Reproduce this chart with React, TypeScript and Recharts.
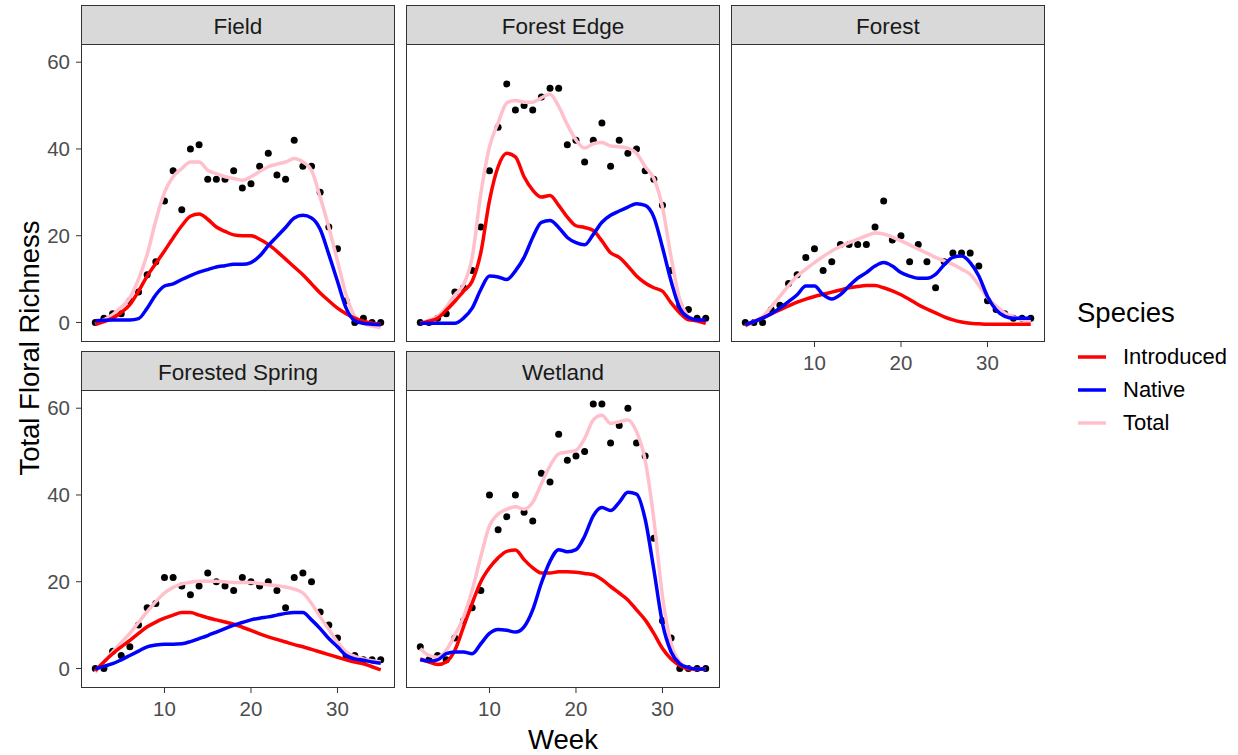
import { ComposedChart, Line, Scatter, XAxis, YAxis } from "recharts"

// sampling weeks shared by every site
const weeks = [2, 3, 4, 5, 6, 7, 8, 9, 10, 11, 12, 13, 14, 15, 16, 17, 18, 19, 20, 21, 22, 23, 24, 25, 26, 27, 28, 29, 30, 31, 32, 33, 34, 35]

// Field
const fieldPoints = [0, 1, 2, 2, 5, 7, 11, 14, 28, 35, 26, 40, 41, 33, 33, 33, 35, 31, 32, 36, 39, 34, 33, 42, 36, 36, 30, 22, 17, 5, 0, 1, 0, 0]
const fieldIntroduced = [-0.4, 0.2, 1, 2.3, 4.1, 7.2, 10.7, 13.6, 16.5, 19.5, 22.3, 24.5, 25, 23.8, 22, 21, 20.2, 20, 20, 19.2, 18, 16.4, 14.6, 12.8, 11, 8.9, 6.8, 5, 3.3, 2, 1, 0.3, -0.2, -0.4]
const fieldNative = [0.4, 0.5, 0.6, 0.6, 0.6, 0.9, 3.3, 6.4, 8.4, 8.9, 9.9, 10.8, 11.6, 12.2, 12.8, 13.1, 13.4, 13.4, 13.8, 15.3, 17.7, 19.8, 21.9, 24.1, 24.7, 24.1, 21.5, 15.7, 9.5, 3.3, 0.4, -0.2, -0.4, -0.5]
const fieldTotal = [-0.4, 0.6, 1.8, 3.5, 5.7, 10, 15.7, 23.5, 30, 33.6, 35.5, 37, 37, 35.1, 34.3, 33.6, 33.2, 32.8, 33.6, 34.8, 35.9, 36.5, 37, 37.8, 37, 35.1, 28.9, 21.9, 14.2, 6.4, 1.4, -0.2, -0.8, -1.2]

// Forest Edge
const edgePoints = [0, 0, 1, 2, 7, 8, 12, 22, 35, 45, 55, 49, 50, 49, 52, 54, 54, 41, 42, 37, 42, 46, 36, 42, 39, 40, 35, 33, 27, 12, 4, 3, 1, 1]
const edgeIntroduced = [-0.2, 0.3, 1, 2.8, 4.9, 7.2, 9.5, 16.1, 28.1, 35.9, 39, 38.2, 33.6, 30.5, 28.9, 29.3, 27, 24.3, 22.3, 21.9, 21.2, 18.8, 16.1, 15, 13, 10.7, 9.1, 8, 7.2, 4.5, 2.2, 0.6, 0.4, -0.2]
const edgeNative = [-0.2, -0.2, -0.2, -0.2, -0.2, 1, 3.3, 7.6, 10.7, 10.5, 9.9, 11.9, 15, 19.6, 23.1, 23.5, 21.9, 19.6, 18.4, 17.9, 20.3, 23.1, 24.7, 25.7, 26.6, 27.4, 27, 24.3, 17.3, 9.5, 3.3, 1.2, 0.6, 0.6]
const edgeTotal = [-0.2, 0.5, 1.4, 3.5, 6.4, 8.7, 15, 29.7, 40.5, 46, 50.6, 51.2, 50.8, 50.8, 51.8, 52.6, 49.8, 45.6, 42.1, 40.2, 41.2, 41.5, 40.7, 40.5, 40.2, 39, 35.9, 33.2, 26.6, 15, 5.3, 1.4, 0.2, -0.2]

// Forest
const forestPoints = [0, 0, 0, 3, 4, 9, 11, 15, 17, 12, 14, 18, 18, 18, 18, 22, 28, 19, 20, 14, 18, 14, 8, 14, 16, 16, 16, 13, 5, 3, 2, 1, 1, 1]
const forestIntroduced = [-0.7, 0.2, 1, 2, 2.9, 3.8, 4.7, 5.4, 6, 6.5, 7, 7.5, 8, 8.3, 8.5, 8.5, 8, 7.3, 6.4, 5.3, 4.1, 3.1, 2.2, 1.3, 0.6, 0.1, -0.2, -0.3, -0.4, -0.4, -0.4, -0.4, -0.4, -0.4]
const forestNative = [-0.5, 0.2, 1, 2, 3.3, 4.8, 6.4, 8.4, 8.4, 6.4, 5.4, 6.4, 8.4, 10.2, 11.5, 13, 13.8, 13, 11.5, 10.7, 10.2, 10.2, 11.1, 13.3, 15, 15.3, 13.8, 10.7, 6, 2.9, 1.4, 1, 1, 1]
const forestTotal = [-0.9, 0.3, 1.4, 3.6, 6, 8.5, 10.7, 12.3, 13.8, 15.2, 16.5, 17.5, 18.4, 19.2, 20, 20.6, 20.4, 19.7, 18.8, 17.9, 16.9, 16, 15, 14.2, 13.4, 12.3, 11.1, 8.6, 5.7, 3.8, 2.2, 1.3, 0.6, 0.2]

// Forested Spring
const springPoints = [0, 0, 4, 3, 5, 10, 14, 15, 21, 21, 19, 17, 19, 22, 20, 19, 18, 21, 20, 19, 20, 18, 14, 21, 22, 20, 13, 10, 7, 3, 3, 2, 2, 2]
const springIntroduced = [-0.5, 1.5, 3.4, 5, 6.5, 8.1, 9.6, 10.7, 11.6, 12.3, 12.9, 12.9, 12.3, 11.7, 11.2, 10.7, 10.2, 9.5, 8.8, 8, 7.3, 6.7, 6.1, 5.5, 5, 4.4, 3.8, 3.2, 2.6, 2, 1.5, 1.1, 0.4, -0.3]
const springNative = [-0.1, 0.5, 1.1, 2, 3, 4, 5, 5.4, 5.6, 5.6, 5.7, 6.2, 6.9, 7.6, 8.4, 9.2, 10, 10.6, 11.2, 11.6, 11.9, 12.3, 12.7, 12.9, 12.9, 11.2, 9.2, 6.9, 5, 3, 2.2, 1.9, 1.5, 1.2]
const springTotal = [-0.9, 1.5, 3.8, 6, 8.1, 10.6, 13.1, 15.4, 17.4, 18.7, 19.5, 19.9, 20.1, 20.1, 20.1, 20, 19.8, 19.8, 19.8, 19.6, 19.3, 19.1, 18.8, 18.3, 17.4, 15, 11.9, 9, 6.1, 3.8, 2.8, 2.2, 1.8, 1.5]

// Wetland
const wetlandPoints = [5, 2, 3, 2, 7, 11, 14, 18, 40, 32, 35, 40, 36, 34, 45, 43, 54, 48, 49, 50, 61, 61, 52, 56, 60, 52, 49, 30, 11, 7, 0, 0, 0, 0]
const wetlandIntroduced = [2.2, 1.5, 0.9, 1.5, 4.2, 9.6, 15, 20, 23.2, 25.5, 27, 27.3, 25.1, 23.2, 22, 22, 22.3, 22.3, 22.2, 21.9, 21.6, 20.5, 18.9, 17.4, 15.8, 13.5, 11.2, 8.1, 4.6, 2.2, 0.7, -0.1, -0.1, -0.1]
const wetlandNative = [2, 1.7, 2, 3.4, 3.8, 3.8, 3.4, 5.7, 8.1, 9, 8.8, 8.4, 9.6, 13.5, 19.7, 24.7, 27.4, 26.9, 27.4, 30.5, 35.2, 37.1, 36.4, 38.3, 40.6, 40.2, 34.4, 22.8, 10.4, 3.8, 1.1, 0.2, -0.1, -0.1]
const wetlandTotal = [4.6, 3, 2.6, 4.2, 7.7, 11.9, 18.1, 25.8, 32.9, 35.6, 36.7, 37.3, 36.7, 38.3, 42.6, 46.7, 49.5, 49.9, 50.3, 53, 57.3, 58.4, 56.5, 56.9, 57.3, 54.6, 48, 34.4, 16.6, 5.7, 1.5, 0.2, -0.1, -0.1]

const xTicks = [10, 20, 30]
const yTicks = [0, 20, 40, 60]
const X_DOMAIN: [number, number] = [0.35, 36.65]
const Y_DOMAIN: [number, number] = [-4.5, 64.2]

const species = [
  { key: "introduced", label: "Introduced", color: "#FF0000" },
  { key: "native", label: "Native", color: "#0000FF" },
  { key: "total", label: "Total", color: "#FFC0CB" },
]

const FONT = '"Liberation Sans", Arial, sans-serif'
const PANEL_W = 314
const PANEL_H = 298
const STRIP_H = 39
const Y_AXIS_W = 81
const X_AXIS_H = 40

interface Facet {
  name: string
  points: number[]
  introduced: number[]
  native: number[]
  total: number[]
}

const facets: Facet[] = [
  { name: "Field", points: fieldPoints, introduced: fieldIntroduced, native: fieldNative, total: fieldTotal },
  { name: "Forest Edge", points: edgePoints, introduced: edgeIntroduced, native: edgeNative, total: edgeTotal },
  { name: "Forest", points: forestPoints, introduced: forestIntroduced, native: forestNative, total: forestTotal },
  { name: "Forested Spring", points: springPoints, introduced: springIntroduced, native: springNative, total: springTotal },
  { name: "Wetland", points: wetlandPoints, introduced: wetlandIntroduced, native: wetlandNative, total: wetlandTotal },
]

// panel grid: 3 columns, wrap after the third site
const layout = [
  { left: 81, top: 44, showY: true, showX: false },
  { left: 406, top: 44, showY: false, showX: false },
  { left: 731, top: 44, showY: false, showX: true },
  { left: 81, top: 390, showY: true, showX: true },
  { left: 406, top: 390, showY: false, showX: true },
]

const PointDot = (props: any) => {
  const { cx, cy } = props
  if (cx == null || cy == null) return null
  return <circle cx={cx} cy={cy} r={3.5} fill="#000000" />
}

function FacetPanel({ facet, left, top, showY, showX }: { facet: Facet; left: number; top: number; showY: boolean; showX: boolean }) {
  const data = weeks.map((week, i) => ({
    week,
    count: facet.points[i],
    introduced: facet.introduced[i],
    native: facet.native[i],
    total: facet.total[i],
  }))
  const axisW = showY ? Y_AXIS_W : 0
  const axisH = showX ? X_AXIS_H : 0
  const tickStyle = { fill: "#4D4D4D", fontSize: 20.5, fontFamily: FONT }

  return (
    <>
      <div
        style={{
          position: "absolute",
          left,
          top: top - STRIP_H,
          width: PANEL_W,
          height: STRIP_H + 1,
          boxSizing: "border-box",
          background: "#D9D9D9",
          border: "1px solid #333333",
          display: "flex",
          alignItems: "center",
          justifyContent: "center",
          paddingTop: 4,
          fontSize: 22.5,
          color: "#1A1A1A",
        }}
      >
        {facet.name}
      </div>
      {/* axes + raw weekly totals underneath */}
      <div style={{ position: "absolute", left: left - axisW, top }}>
        <ComposedChart width={PANEL_W + axisW} height={PANEL_H + axisH} data={data} margin={{ top: 0, right: 0, bottom: 0, left: 0 }}>
          <XAxis
            dataKey="week"
            type="number"
            domain={X_DOMAIN}
            ticks={xTicks}
            hide={!showX}
            height={axisH}
            tickSize={5}
            tickMargin={8}
            axisLine={false}
            tickLine={{ stroke: "#333333" }}
            tick={tickStyle}
            allowDataOverflow
          />
          <YAxis
            type="number"
            domain={Y_DOMAIN}
            ticks={yTicks}
            hide={!showY}
            width={axisW}
            tickSize={5}
            tickMargin={6}
            axisLine={false}
            tickLine={{ stroke: "#333333" }}
            tick={tickStyle}
            allowDataOverflow
          />
          <Scatter dataKey="count" shape={PointDot} isAnimationActive={false} />
        </ComposedChart>
      </div>
      {/* smoothed richness curves on top of the points */}
      <div style={{ position: "absolute", left, top }}>
        <ComposedChart width={PANEL_W} height={PANEL_H} data={data} margin={{ top: 0, right: 0, bottom: 0, left: 0 }}>
          <XAxis dataKey="week" type="number" domain={X_DOMAIN} hide allowDataOverflow />
          <YAxis type="number" domain={Y_DOMAIN} hide allowDataOverflow />
          <Line dataKey="total" type="monotone" stroke="#FFC0CB" strokeWidth={3.5} dot={false} activeDot={false} isAnimationActive={false} />
          <Line dataKey="introduced" type="monotone" stroke="#FF0000" strokeWidth={3.5} dot={false} activeDot={false} isAnimationActive={false} />
          <Line dataKey="native" type="monotone" stroke="#0000FF" strokeWidth={3.5} dot={false} activeDot={false} isAnimationActive={false} />
        </ComposedChart>
      </div>
      <div
        style={{
          position: "absolute",
          left,
          top,
          width: PANEL_W,
          height: PANEL_H,
          boxSizing: "border-box",
          border: "1px solid #333333",
          pointerEvents: "none",
        }}
      />
    </>
  )
}

export default function App() {
  return (
    <div style={{ position: "relative", width: 1238, height: 755, background: "#FFFFFF", fontFamily: FONT, overflow: "hidden" }}>
      <style>{"body{margin:0}"}</style>
      {facets.map((facet, i) => (
        <FacetPanel key={facet.name} facet={facet} {...layout[i]} />
      ))}

      {/* axis titles */}
      <div
        style={{
          position: "absolute",
          left: 30,
          top: 348,
          transform: "translate(-50%, -50%) rotate(-90deg)",
          whiteSpace: "nowrap",
          fontSize: 27.5,
          color: "#000000",
        }}
      >
        Total Floral Richness
      </div>
      <div
        style={{
          position: "absolute",
          left: 563,
          top: 740,
          transform: "translate(-50%, -50%)",
          fontSize: 27.5,
          color: "#000000",
        }}
      >
        Week
      </div>

      {/* legend */}
      <div style={{ position: "absolute", left: 1077, top: 313, transform: "translateY(-50%)", fontSize: 27.5, color: "#000000" }}>
        Species
      </div>
      {species.map((s, i) => (
        <div key={s.key} style={{ position: "absolute", left: 1078, top: 357 + i * 33, transform: "translateY(-50%)", display: "flex", alignItems: "center" }}>
          <svg width={28} height={8}>
            <line x1={0} y1={4} x2={28} y2={4} stroke={s.color} strokeWidth={3.5} />
          </svg>
          <span style={{ marginLeft: 17, fontSize: 22, color: "#000000" }}>{s.label}</span>
        </div>
      ))}
    </div>
  )
}
